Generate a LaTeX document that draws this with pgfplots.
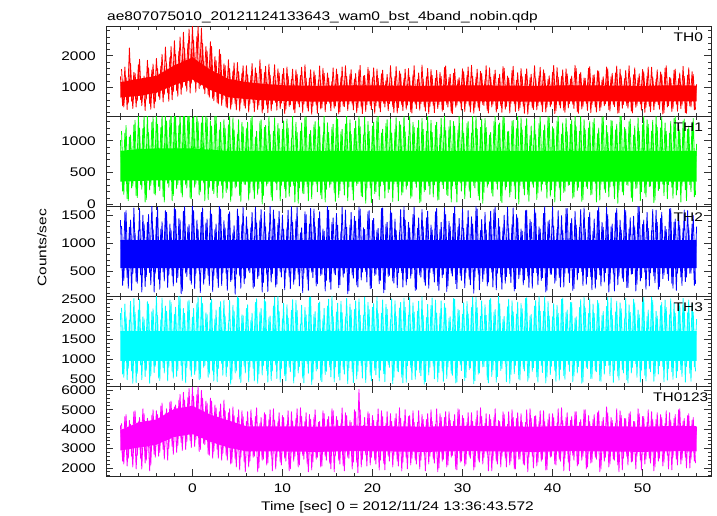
\documentclass[border=0pt]{standalone}
\usepackage{pgfplots}
\pgfplotsset{compat=1.18}
\usepackage{pgfplotstable}
\usepackage{fontspec}
\setmainfont{Liberation Sans}[FakeStretch=1.24]
\newcommand\fs{\fontsize{12.5}{14}\selectfont}
\definecolor{qred}{RGB}{255,0,0}
\definecolor{qgreen}{RGB}{0,255,0}
\definecolor{qblue}{RGB}{0,0,255}
\definecolor{qcyan}{RGB}{0,255,255}
\definecolor{qmag}{RGB}{255,0,255}

\pgfplotstableread{
t a b c d e
-8 1350 1010 1420 2150 4200
-7.75 420 210 240 620 2350
-7.5 1650 1120 1560 2380 4650
-7.25 300 90 380 480 2100
-7 2250 1060 1290 1980 4450
-6.75 560 260 150 700 2600
-6.5 1480 1250 1640 2520 4900
-6.25 380 140 310 410 1950
-6 1720 1380 1230 2230 4380
-5.75 610 310 430 850 2500
-5.5 1290 1190 1510 2060 5050
-5.25 270 40 220 560 2250
-5 1860 1420 1380 2440 4560
-4.75 490 230 470 390 1850
-4.5 1560 1290 1700 2190 4720
-4.25 350 170 120 660 2700
-4 1920 1450 1470 2570 4950
-3.75 720 280 350 520 2600
-3.5 1680 1210 1260 1990 5200
-3.25 540 120 480 780 2950
-3 2280 1400 1590 2330 4800
-2.75 830 330 200 450 2400
-2.5 1950 1330 1350 2480 5400
-2.25 610 60 410 690 3100
-2 2480 1460 1640 2120 5150
-1.75 900 250 290 560 2800
-1.5 2150 1240 1450 2600 5500
-1.25 780 180 90 830 3300
-1 2750 1390 1580 2270 5900
-0.75 1050 310 460 400 2950
-0.5 2400 1460 1300 2450 5650
-0.25 820 100 330 720 3400
0 2950 1350 1680 2050 6150
0.25 1180 270 180 610 3100
0.5 2620 1440 1420 2390 5800
0.75 960 150 500 480 2850
1 2880 1280 1560 2550 6000
1.25 950 340 260 790 3250
1.5 2300 1420 1370 2160 5450
1.75 760 80 420 540 2700
2 2450 1310 1600 2410 5600
2.25 650 220 130 700 2500
2.5 1980 1400 1250 2010 5250
2.75 520 110 360 430 2950
3 2200 1170 1690 2300 4900
3.25 430 300 240 880 2400
3.5 1750 1330 1410 2480 5500
3.75 380 190 450 560 2650
4 1880 1250 1530 1900 4850
4.25 310 50 310 370 2200
4.5 1520 1360 1190 2350 5150
4.75 480 260 80 650 2450
5 1790 1100 1620 2560 4600
5.25 250 140 410 500 1900
5.5 1450 1290 1340 2110 4950
5.75 420 320 270 820 2300
6 1690 1190 1480 2270 4400
6.25 220 70 500 430 2050
6.5 1380 1350 1290 1970 5000
6.75 510 230 190 760 2550
7 1620 1060 1650 2420 4650
7.25 300 160 360 390 1800
7.5 1880 1300 1420 2180 4300
7.75 190 10 120 600 2400
8 1470 1210 1570 2500 4850
8.25 440 290 440 710 2150
8.5 1740 1380 1210 2040 4500
8.75 260 120 300 460 2650
9 1350 1150 1600 2330 5050
9.25 520 340 210 850 1950
9.5 1590 1270 1360 2590 4380
9.75 330 60 480 420 2300
10 1420 1180 1510 2010 4700
10.25 170 250 160 580 2500
10.5 1650 1340 1280 2360 4250
10.75 400 130 390 790 1850
11 1260 1040 1660 2220 4900
11.25 290 300 260 400 2350
11.5 1560 1290 1430 2470 4550
11.75 480 20 440 650 2050
12 1380 1150 1190 1880 5100
12.25 210 180 110 520 2650
12.5 1720 1390 1570 2290 4400
12.75 360 280 350 880 2200
13 1300 1100 1350 2540 4750
13.25 150 90 480 360 1900
13.5 1530 1250 1620 2120 4600
13.75 450 330 230 700 2450
14 1240 1320 1450 2400 4350
14.25 320 150 420 470 2050
14.5 1610 1080 1260 2010 4950
14.75 230 40 140 610 2600
15 1460 1280 1680 2330 4500
15.25 500 270 300 800 2250
15.5 1190 1210 1380 2580 5050
15.75 340 190 460 430 1800
16 1580 1370 1540 2180 4650
16.25 160 110 200 560 2400
16.5 1330 1140 1210 2450 4300
16.75 410 320 390 740 2100
17 1690 1260 1600 2060 4850
17.25 270 60 90 380 2550
17.5 1420 1330 1330 2380 4450
17.75 470 230 430 680 1950
18 1270 1190 1490 2240 5000
18.25 200 300 250 500 2300
18.5 1550 1400 1650 2510 6050
18.75 380 140 340 830 2050
19 1360 1090 1280 2090 4200
19.25 240 20 490 410 2700
19.5 1640 1300 1570 2420 4900
19.75 430 260 180 590 2150
20 1310 1230 1410 2300 4700
20.25 180 170 420 720 2400
20.5 1580 1360 1240 2550 4450
20.75 350 80 270 450 1900
21 1430 1120 1630 2150 4950
21.25 490 310 110 630 2250
21.5 1220 1270 1350 2370 4300
21.75 260 190 400 860 2600
22 1690 1340 1590 1990 4800
22.25 400 50 320 380 2050
22.5 1350 1180 1440 2460 4550
22.75 190 280 200 700 2350
23 1520 1300 1200 2280 5100
23.25 450 150 470 540 1850
23.5 1280 1410 1660 2530 4400
23.75 310 240 250 420 2500
24 1600 1070 1380 2100 4650
24.25 230 100 370 790 2150
24.5 1400 1290 1520 2410 4950
24.75 470 330 150 490 2400
25 1250 1200 1270 2200 4350
25.25 280 30 430 660 1950
25.5 1710 1350 1610 2560 4750
25.75 390 200 300 370 2650
26 1340 1150 1460 2040 4500
26.25 170 290 190 600 2200
26.5 1570 1320 1330 2340 5000
26.75 420 120 450 820 2450
27 1290 1240 1570 2480 4250
27.25 330 70 240 430 1800
27.5 1480 1100 1250 2150 4800
27.75 250 310 380 700 2350
28 1630 1390 1640 2390 4600
28.25 460 160 130 510 2050
28.5 1320 1220 1400 2020 4900
28.75 210 40 460 640 2550
29 1450 1300 1540 2520 4400
29.25 370 250 270 400 1950
29.5 1260 1170 1290 2250 5050
29.75 500 340 420 850 2300
30 1590 1330 1620 2120 4700
30.25 240 90 200 460 2100
30.5 1380 1270 1350 2440 4350
30.75 410 210 350 730 2600
31 1700 1120 1480 2290 4850
31.25 180 300 100 380 1900
31.5 1330 1380 1670 2550 4500
31.75 350 140 440 620 2400
32 1510 1210 1230 2070 5100
32.25 460 20 310 800 2200
32.5 1240 1350 1560 2360 4300
32.75 270 270 230 480 2700
33 1620 1090 1390 2480 4750
33.25 380 180 480 560 1850
33.5 1410 1300 1610 2180 4600
33.75 220 330 160 420 2350
34 1290 1250 1450 2590 4450
34.25 430 60 390 710 2050
34.5 1660 1400 1280 2000 4900
34.75 310 230 280 880 2500
35 1360 1140 1650 2310 4250
35.25 190 120 450 390 2150
35.5 1540 1310 1340 2460 5000
35.75 480 290 140 630 1950
36 1230 1190 1520 2130 4550
36.25 260 10 360 500 2450
36.5 1600 1360 1260 2390 4800
36.75 400 250 250 760 2200
37 1420 1230 1590 2520 4350
37.25 150 160 410 440 1800
37.5 1310 1080 1430 2080 5050
37.75 360 320 190 690 2600
38 1690 1340 1620 2330 4650
38.25 290 80 470 550 2100
38.5 1370 1270 1300 2570 4400
38.75 450 210 330 830 2350
39 1560 1160 1540 2200 4950
39.25 220 310 120 400 1900
39.5 1260 1390 1390 2440 4500
39.75 390 130 440 610 2550
40 1480 1220 1660 2060 4800
40.25 170 40 280 720 2200
40.5 1630 1310 1250 2350 4300
40.75 440 260 380 470 2450
41 1350 1100 1500 2500 5100
41.25 280 190 210 580 1850
41.5 1590 1350 1630 2170 4600
41.75 350 300 460 860 2300
42 1270 1260 1360 2420 4450
42.25 470 100 150 430 2650
42.5 1700 1400 1580 2030 4900
42.75 230 220 340 650 2100
43 1420 1150 1290 2290 4350
43.25 320 50 490 390 2400
43.5 1300 1330 1640 2550 5000
43.75 490 280 260 790 1950
44 1610 1200 1470 2140 4700
44.25 200 150 400 510 2250
44.5 1390 1290 1220 2380 4500
44.75 380 330 190 700 2550
45 1530 1110 1590 2470 4850
45.25 260 70 430 450 1800
45.5 1240 1370 1380 2090 4400
45.75 420 240 300 620 2350
46 1650 1240 1650 2320 5150
46.25 300 120 120 840 2050
46.5 1340 1320 1300 2540 4600
46.75 460 290 460 410 2450
47 1460 1170 1550 2180 4300
47.25 180 20 250 570 2150
47.5 1580 1400 1420 2410 4950
47.75 340 200 370 730 1900
48 1280 1210 1610 2010 4550
48.25 430 310 200 480 2600
48.5 1690 1300 1260 2360 4800
48.75 250 110 440 650 2300
49 1400 1090 1490 2500 4400
49.25 370 250 140 880 1950
49.5 1310 1360 1670 2230 5050
49.75 480 60 320 420 2400
50 1570 1250 1340 2430 4650
50.25 210 180 480 590 2200
50.5 1360 1330 1560 2070 4350
50.75 400 280 230 760 2500
51 1640 1150 1230 2550 4900
51.25 290 30 410 440 1850
51.5 1250 1380 1600 2200 4500
51.75 450 220 170 620 2350
52 1490 1200 1450 2340 4750
52.25 160 320 360 810 2100
52.5 1610 1280 1310 2480 4300
52.75 380 90 450 470 2650
53 1320 1120 1620 2110 4850
53.25 240 270 280 680 1900
53.5 1550 1350 1380 2400 4550
53.75 470 150 150 530 2450
54 1280 1240 1540 2270 5000
54.25 330 40 390 730 2200
54.5 1670 1310 1270 2520 4400
54.75 200 230 310 420 2550
55 1390 1180 1590 2160 4700
55.25 410 310 460 640 2000
55.5 1500 1260 1350 2380 4450
55.75 290 120 240 800 2350
56 1100 950 1300 2000 4100
}\spk

\pgfplotstableread{
t a b c d e
-7.875 1580 1150 1310 2280 4300
-7.625 380 160 330 540 2200
-7.375 1320 1240 1590 2060 4750
-7.125 510 60 190 770 2500
-6.875 1760 1090 1420 2450 4250
-6.625 330 290 450 390 2050
-6.375 1450 1320 1180 2170 4950
-6.125 580 110 280 640 2650
-5.875 1890 1200 1630 2500 4600
-5.625 420 240 120 480 1950
-5.375 1360 1400 1350 2010 4800
-5.125 630 80 400 720 2400
-4.875 1620 1130 1520 2380 4350
-4.625 310 300 250 580 2150
-4.375 1740 1370 1260 2260 5000
-4.125 550 150 460 820 2550
-3.875 1600 1260 1650 2090 4750
-3.625 620 220 170 460 2800
-3.375 2050 1420 1390 2530 5350
-3.125 780 40 320 650 2450
-2.875 1770 1310 1560 2200 5050
-2.625 560 270 430 790 3000
-2.375 2300 1450 1240 2420 5450
-2.125 870 140 230 520 2700
-1.875 2050 1380 1610 2300 5250
-1.625 720 310 380 710 3150
-1.375 2600 1460 1420 2540 5800
-1.125 1000 120 140 460 2900
-0.875 2250 1400 1660 2150 5500
-0.625 880 260 400 780 3350
-0.375 2850 1470 1340 2480 6100
-0.125 1130 90 260 560 3050
0.125 2500 1420 1590 2270 5700
0.375 850 320 450 700 3450
0.625 2950 1300 1250 2560 6200
0.875 1050 200 110 510 2950
1.125 2400 1460 1640 2390 5600
1.375 800 60 360 830 3200
1.625 2150 1360 1440 2120 5350
1.875 690 270 240 620 2650
2.125 2300 1230 1530 2500 5450
2.375 580 170 410 450 2850
2.625 1850 1410 1350 2230 5100
2.875 480 300 200 760 2500
3.125 2050 1290 1620 2440 5300
3.375 620 100 470 590 2750
3.625 1700 1200 1280 2080 4950
3.875 350 240 150 800 2400
4.125 1600 1380 1570 2470 5050
4.375 460 130 340 480 2250
4.625 1780 1170 1320 2200 4700
4.875 290 280 440 700 2050
5.125 1500 1330 1490 2530 5000
5.375 520 50 190 410 2550
5.625 1690 1220 1650 2090 4650
5.875 340 310 370 650 1800
6.125 1400 1290 1260 2360 4900
6.375 480 180 470 790 2350
6.625 1760 1400 1560 2150 4450
6.875 230 90 220 450 2600
7.125 1450 1150 1370 2510 5100
7.375 440 250 410 620 2000
7.625 1580 1330 1610 2270 4600
7.875 310 140 290 830 2450
8.125 1670 1240 1300 2440 4750
8.375 200 330 130 420 2250
8.625 1390 1100 1670 2080 5000
8.875 470 60 450 700 1850
9.125 1720 1360 1440 2550 4450
9.375 280 230 260 510 2550
9.625 1460 1190 1580 2190 4850
9.875 500 300 390 760 2150
10.125 1600 1310 1250 2400 4600
10.375 310 110 470 450 2350
10.625 1350 1200 1600 2030 4950
10.875 450 280 180 680 1950
11.125 1580 1390 1380 2490 4400
11.375 200 40 350 560 2600
11.625 1420 1130 1650 2220 5050
11.875 380 260 230 810 2150
12.125 1640 1280 1280 2350 4650
12.375 470 170 460 400 2450
12.625 1290 1370 1520 2110 4850
12.875 250 60 150 640 1800
13.125 1560 1160 1630 2560 4500
13.375 420 310 380 490 2300
13.625 1390 1300 1300 2190 5000
13.875 180 200 270 750 2550
14.125 1680 1220 1570 2430 4400
14.375 350 90 440 430 2100
14.625 1450 1400 1220 2270 4800
14.875 480 240 330 690 2400
15.125 1300 1130 1600 2500 4650
15.375 260 320 170 550 1950
15.625 1620 1260 1460 2060 4950
15.875 410 50 430 800 2650
16.125 1410 1340 1330 2400 4450
16.375 230 220 250 470 2200
16.625 1650 1180 1650 2160 5100
16.875 390 150 460 620 1850
17.125 1350 1390 1290 2520 4700
17.375 470 280 140 780 2500
17.625 1560 1100 1560 2230 4350
17.875 290 70 370 410 2300
18.125 1440 1310 1400 2460 4900
18.375 360 330 210 690 1750
18.625 1700 1220 1620 2100 5000
18.875 170 120 480 520 2450
19.125 1380 1370 1250 2550 4600
19.375 450 260 300 800 2100
19.625 1520 1150 1590 2240 4800
19.875 300 30 190 450 2550
20.125 1620 1290 1450 2390 4450
20.375 420 200 440 600 2200
20.625 1290 1400 1270 2140 5050
20.875 230 290 330 720 2400
21.125 1550 1180 1640 2480 4650
21.375 380 100 160 430 1900
21.625 1410 1330 1380 2250 4900
21.875 490 240 420 790 2350
22.125 1300 1120 1550 2510 4400
22.375 210 320 280 540 2650
22.625 1660 1360 1230 2070 4800
22.875 360 60 470 680 2100
23.125 1430 1250 1610 2420 4550
23.375 270 190 210 400 2300
23.625 1580 1140 1420 2300 5000
23.875 440 300 360 830 1950
24.125 1320 1390 1280 2540 4700
24.375 190 130 450 480 2500
24.625 1690 1210 1650 2180 4350
24.875 330 270 170 720 2200
25.125 1460 1320 1460 2450 4950
25.375 480 50 390 580 2400
25.625 1270 1180 1300 2090 4500
25.875 250 230 240 430 1850
26.125 1600 1400 1580 2370 4800
26.375 400 160 470 790 2600
26.625 1380 1130 1240 2530 4400
26.875 200 310 300 500 2250
27.125 1540 1290 1630 2150 5050
27.375 460 80 150 660 2000
27.625 1350 1350 1380 2460 4600
27.875 300 250 440 440 2450
28.125 1680 1160 1520 2280 4900
28.375 380 140 230 800 2150
28.625 1420 1320 1300 2060 4450
28.875 170 290 410 590 2650
29.125 1590 1230 1660 2500 4750
29.375 440 40 180 420 1900
29.625 1310 1380 1450 2220 5000
29.875 280 210 330 710 2350
30.125 1500 1120 1270 2410 4550
30.375 490 300 470 530 2200
30.625 1650 1300 1590 2130 4850
30.875 220 110 250 770 2500
31.125 1360 1400 1350 2550 4400
31.375 370 260 390 450 2050
31.625 1580 1180 1620 2290 4950
31.875 260 70 160 650 2300
32.125 1440 1340 1430 2460 4650
32.375 430 190 440 810 2550
32.625 1690 1210 1240 2100 4800
32.875 190 320 300 400 1850
33.125 1330 1130 1580 2520 4500
33.375 470 130 210 720 2400
33.625 1550 1390 1650 2240 5050
33.875 320 240 460 560 2200
34.125 1420 1280 1300 2390 4400
34.375 210 30 170 760 2600
34.625 1610 1360 1510 2070 4750
34.875 400 280 400 430 2050
35.125 1300 1150 1270 2500 4900
35.375 490 200 290 610 2350
35.625 1670 1320 1640 2180 4600
35.875 240 90 180 840 1950
36.125 1470 1400 1460 2430 4850
36.375 360 300 430 470 2450
36.625 1340 1170 1220 2260 4350
36.875 180 150 340 700 2150
37.125 1590 1350 1600 2540 5000
37.375 450 50 200 520 2550
37.625 1420 1230 1380 2120 4550
37.875 300 270 470 780 2000
38.125 1280 1100 1550 2470 4700
38.375 420 180 250 420 2300
38.625 1640 1380 1260 2200 4950
38.875 230 320 380 660 2450
39.125 1450 1250 1660 2560 4400
39.375 380 100 150 550 1900
39.625 1370 1360 1420 2080 4800
39.875 470 230 440 820 2600
40.125 1700 1190 1310 2390 4600
40.375 260 290 330 440 2150
40.625 1320 1400 1590 2150 5050
40.875 350 60 210 740 2350
41.125 1560 1280 1240 2530 4450
41.375 210 210 460 490 2500
41.625 1430 1140 1630 2230 4850
41.875 490 310 290 690 1850
42.125 1360 1330 1450 2420 4650
42.375 330 120 180 570 2400
42.625 1600 1220 1330 2060 4900
42.875 180 270 470 810 2200
43.125 1480 1390 1610 2490 4500
43.375 400 80 240 420 2600
43.625 1290 1170 1260 2280 5000
43.875 270 250 400 760 2050
44.125 1660 1300 1560 2510 4400
44.375 450 160 160 510 2300
44.625 1400 1350 1440 2140 4750
44.875 220 40 350 680 2450
45.125 1520 1200 1660 2400 4950
45.375 370 320 230 440 1950
45.625 1340 1380 1290 2190 4600
45.875 480 190 470 830 2550
46.125 1590 1130 1520 2550 4850
46.375 250 280 280 580 2200
46.625 1450 1310 1350 2090 4450
46.875 390 90 140 720 2400
47.125 1680 1260 1630 2450 5050
47.375 200 230 420 470 1800
47.625 1370 1400 1240 2260 4700
47.875 460 150 310 650 2500
48.125 1540 1180 1590 2520 4550
48.375 340 300 200 400 2150
48.625 1310 1340 1460 2170 4900
48.875 190 50 450 790 2350
49.125 1620 1230 1300 2410 4400
49.375 430 260 260 540 2600
49.625 1430 1150 1650 2110 4800
49.875 280 200 380 720 1900
50.125 1500 1390 1420 2540 4650
50.375 370 120 170 450 2450
50.625 1650 1260 1270 2230 5000
50.875 230 290 470 680 2250
51.125 1340 1320 1610 2470 4500
51.375 490 70 290 570 2050
51.625 1560 1210 1380 2080 4850
51.875 310 250 220 830 2500
52.125 1420 1370 1560 2420 4600
52.375 200 140 430 430 2300
52.625 1690 1150 1250 2290 4950
52.875 420 310 330 760 1950
53.125 1300 1300 1630 2510 4450
53.375 330 100 190 490 2550
53.625 1580 1390 1440 2150 4750
53.875 250 230 460 700 2150
54.125 1460 1170 1320 2390 5050
54.375 440 290 240 560 2400
54.625 1350 1340 1600 2240 4550
54.875 180 60 390 810 2000
55.125 1620 1230 1280 2480 4800
55.375 380 200 460 440 2450
55.625 1410 1350 1500 2170 4600
55.875 300 150 270 690 2250
}\spkb

% dense core of each band as a closed outline: upper edge left to right, lower edge right to left
\pgfplotstableread{
t a b c d e
-8 1170 840 1060 1700 3950
-6 1270 870 1060 1700 4350
-4 1370 880 1060 1700 4500
-2 1700 880 1060 1700 5050
0 1950 880 1060 1700 5200
2 1560 860 1060 1700 4750
4 1270 840 1060 1700 4450
6 1170 840 1060 1700 4150
8 1110 840 1060 1700 4150
10 1070 840 1060 1700 4150
14 1050 840 1060 1700 4130
18 1070 840 1060 1700 4170
22 1060 840 1060 1700 4150
26 1050 840 1060 1700 4130
30 1070 840 1060 1700 4170
34 1060 840 1060 1700 4150
38 1050 840 1060 1700 4130
42 1070 840 1060 1700 4170
46 1060 840 1060 1700 4150
50 1050 840 1060 1700 4130
54 1070 840 1060 1700 4170
56 1060 840 1060 1700 4150
56 560 360 550 950 2850
54 560 360 550 950 2870
50 550 360 550 950 2830
46 560 360 550 950 2850
42 560 360 550 950 2870
38 550 360 550 950 2830
34 560 360 550 950 2850
30 560 360 550 950 2870
26 550 360 550 950 2830
22 560 360 550 950 2850
18 560 360 550 950 2870
14 550 360 550 950 2830
10 570 360 550 950 2850
8 590 360 550 950 2850
6 630 360 550 950 2850
4 690 360 550 950 3050
2 920 370 550 950 3350
0 1250 380 550 950 3750
-2 1080 380 550 950 3600
-4 830 380 550 950 3200
-6 730 370 550 950 3050
-8 680 360 550 950 2900
}\core

\pgfplotsset{
  panel/.style={
    scale only axis, width=605pt, height=90pt, anchor=south west,
    xmin=-9.6, xmax=57.6,
    xtick={0,10,...,50}, minor xtick={-8,-6,...,56},
    tick align=inside,
    major tick length=7pt, minor tick length=3.5pt,
    tick style={black!80, line width=0.8pt},
    axis line style={black!85, line width=1pt},
    xticklabels={},
    clip mode=individual,
    y tick label style={font=\fs, inner sep=0pt},
    yticklabel shift=10pt,
    /pgf/number format/assume math mode=true,
    /pgf/number format/1000 sep={},
  },
  spk/.style={line width=0.8pt, line join=round},
  band/.style={draw=none},
}

\begin{document}
\begin{tikzpicture}
\path[fill=white, use as bounding box] (0,0) rectangle (717pt,516pt);

% TH0
\begin{axis}[panel, at={(106pt,399.5pt)},
  ymin=80, ymax=2930, ytick={1000,2000}, minor ytick={200,400,...,2800}]
\addplot[band, fill=qred] table[x=t,y=a]{\core};
\addplot[qred, spk] table[x=t,y=a]{\spk};
\addplot[qred, spk] table[x=t,y=a]{\spkb};
\node[anchor=base west, font=\fs, inner sep=0pt] at (rel axis cs:0.938,0.8333) {TH0};
\node[anchor=base west, font=\fs, inner sep=0pt] at (rel axis cs:0.0017,1.0667) {ae807075010\_20121124133643\_wam0\_bst\_4band\_nobin.qdp};
\end{axis}

% TH1
\begin{axis}[panel, at={(106pt,309.5pt)},
  ymin=-30, ymax=1380, ytick={0,500,1000}, minor ytick={100,200,...,1300}]
\addplot[band, fill=qgreen] table[x=t,y=b]{\core};
\addplot[qgreen, spk] table[x=t,y=b]{\spk};
\addplot[qgreen, spk] table[x=t,y=b]{\spkb};
\node[anchor=base west, font=\fs, inner sep=0pt] at (rel axis cs:0.938,0.8333) {TH1};
\end{axis}

% TH2
\begin{axis}[panel, at={(106pt,219.5pt)},
  ymin=40, ymax=1665, ytick={500,1000,1500}, minor ytick={100,200,...,1600}]
\addplot[band, fill=qblue] table[x=t,y=c]{\core};
\addplot[qblue, spk] table[x=t,y=c]{\spk};
\addplot[qblue, spk] table[x=t,y=c]{\spkb};
\node[anchor=base west, font=\fs, inner sep=0pt] at (rel axis cs:0.938,0.8333) {TH2};
\node[anchor=center, rotate=90, font=\fs, inner sep=0pt] at (rel axis cs:-0.1058,0.539) {Counts/sec};
\end{axis}

% TH3
\begin{axis}[panel, at={(106pt,129.5pt)},
  ymin=310, ymax=2568, ytick={500,1000,...,2500}, minor ytick={400,500,...,2500}]
\addplot[band, fill=qcyan] table[x=t,y=d]{\core};
\addplot[qcyan, spk] table[x=t,y=d]{\spk};
\addplot[qcyan, spk] table[x=t,y=d]{\spkb};
\node[anchor=base west, font=\fs, inner sep=0pt] at (rel axis cs:0.938,0.8333) {TH3};
\end{axis}

% TH0123
\begin{axis}[panel, at={(106pt,39.5pt)},
  ymin=1560, ymax=6200, ytick={2000,3000,...,6000}, minor ytick={1600,1800,...,6000},
  xticklabels={0,10,20,30,40,50},
  x tick label style={font=\fs, inner sep=0pt},
  xticklabel shift=7.5pt]
\addplot[band, fill=qmag] table[x=t,y=e]{\core};
\addplot[qmag, spk] table[x=t,y=e]{\spk};
\addplot[qmag, spk] table[x=t,y=e]{\spkb};
\node[anchor=base west, font=\fs, inner sep=0pt] at (rel axis cs:0.904,0.8333) {TH0123};
\node[anchor=base, font=\fs, inner sep=0pt] at (rel axis cs:0.4818,-0.383) {Time [sec] 0 = 2012/11/24 13:36:43.572};
\end{axis}
\end{tikzpicture}
\end{document}
